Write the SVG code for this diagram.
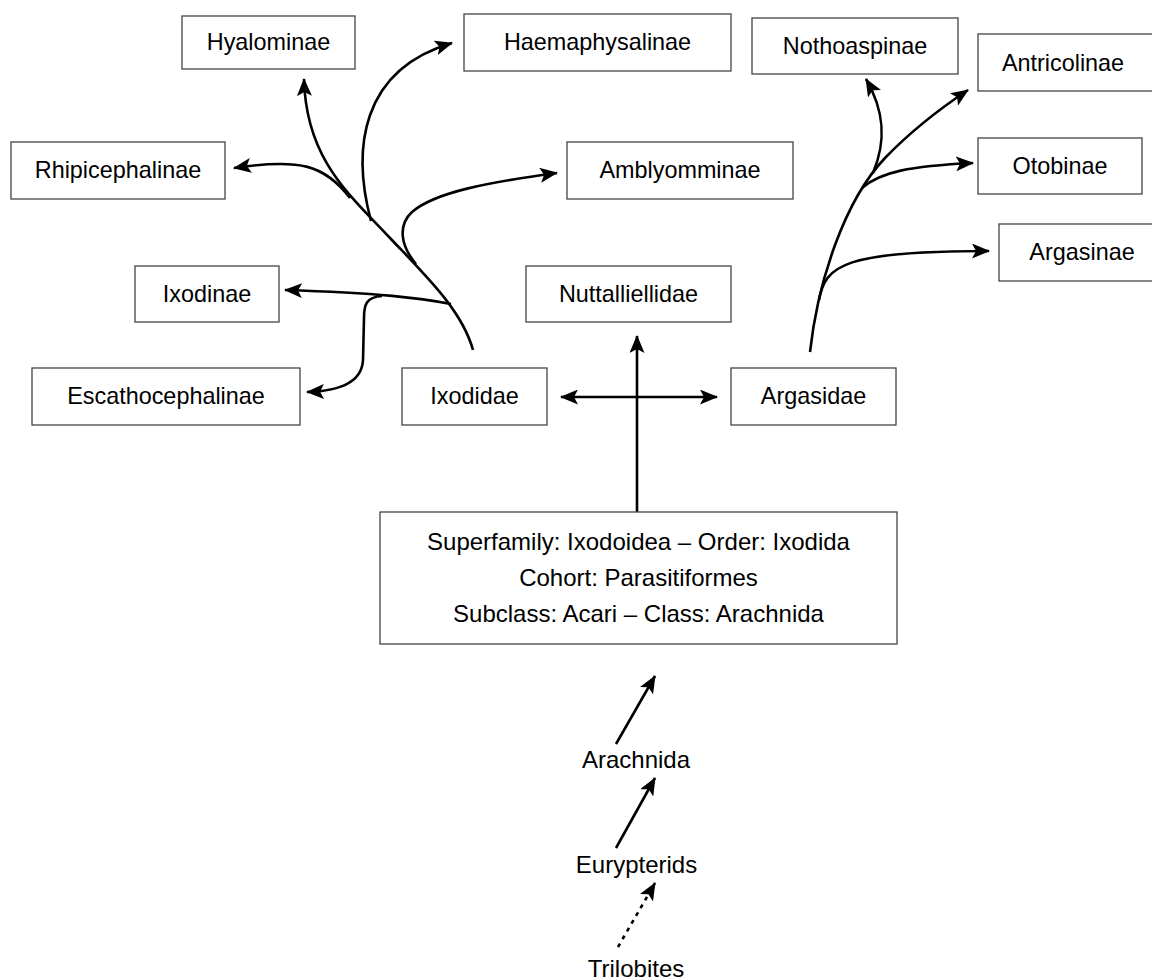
<svg xmlns="http://www.w3.org/2000/svg" width="1152" height="980" viewBox="0 0 1152 980">
<defs>
<marker id="ah" viewBox="0 0 18 15" refX="17" refY="7.5" markerWidth="18" markerHeight="15" markerUnits="userSpaceOnUse" orient="auto-start-reverse">
<path d="M0,0 L18,7.5 L0,15 L4,7.5 z" fill="#000"/>
</marker>
</defs>
<style>
.box{fill:#fff;stroke:#444;stroke-width:1.3}
.t{font-family:"Liberation Sans",Arial,sans-serif;font-size:23.4px;fill:#000;text-anchor:middle}
.b{font-size:24px}
.c{fill:none;stroke:#000;stroke-width:2.6}
.a{marker-end:url(#ah)}
.d{stroke-dasharray:4 5}
</style>
<rect width="1152" height="980" fill="#fff"/>
<g id="connectors">
<path class="c a" d="M473,350 C462,310 425,275 390,238 C350,195 306,160 304,79"/>
<path class="c a" d="M350,198 C325,165 300,158 234,168"/>
<path class="c a" d="M371,221 C352,150 360,70 452,43"/>
<path class="c a" d="M416,264 C400,245 398,225 412,212 C435,192 490,182 557,173"/>
<path class="c a" d="M451,304 C420,298 380,293 285,290"/>
<path class="c a" d="M382,296 C366,297 364,305 364,318 L363,360 C362,380 345,391 307,392"/>
<path class="c a" d="M810,352 C818,280 845,200 885,158 C910,132 935,112 968,90"/>
<path class="c a" d="M873,173 C887,140 884,110 866,79"/>
<path class="c a" d="M862,188 C880,172 910,166 973,163"/>
<path class="c a" d="M819,300 C825,265 845,251 989,251"/>
<path class="c a" d="M637,512 L637,336"/>
<path class="c a" d="M561,397 L717,397" style="marker-start:url(#ah)"/>
<path class="c a" d="M616,744 L655,676"/>
<path class="c a" d="M616,848 L655,778"/>
<path class="c a d" d="M618,947 L655,883"/>
</g>
<g id="hyalominae"><rect class="box" x="182" y="16" width="173" height="53"/><text class="t" x="268.5" y="50">Hyalominae</text></g>
<g id="haemaphysalinae"><rect class="box" x="464" y="14" width="267" height="57"/><text class="t" x="597.5" y="50">Haemaphysalinae</text></g>
<g id="nothoaspinae"><rect class="box" x="752" y="18" width="206" height="56"/><text class="t" x="855" y="54">Nothoaspinae</text></g>
<g id="antricolinae"><rect class="box" x="978" y="34" width="190" height="57"/><text class="t" x="1063" y="71">Antricolinae</text></g>
<g id="rhipicephalinae"><rect class="box" x="11" y="142" width="214" height="57"/><text class="t" x="118" y="178">Rhipicephalinae</text></g>
<g id="amblyomminae"><rect class="box" x="567" y="142" width="226" height="57"/><text class="t" x="680" y="178">Amblyomminae</text></g>
<g id="otobinae"><rect class="box" x="978" y="138" width="164" height="56"/><text class="t" x="1060" y="174">Otobinae</text></g>
<g id="argasinae"><rect class="box" x="999" y="224" width="170" height="57"/><text class="t" x="1082" y="260">Argasinae</text></g>
<g id="ixodinae"><rect class="box" x="135" y="266" width="144" height="56"/><text class="t" x="207" y="302">Ixodinae</text></g>
<g id="nuttalliellidae"><rect class="box" x="526" y="266" width="205" height="56"/><text class="t" x="628.5" y="302">Nuttalliellidae</text></g>
<g id="escathocephalinae"><rect class="box" x="32" y="368" width="268" height="57"/><text class="t" x="166" y="404">Escathocephalinae</text></g>
<g id="ixodidae"><rect class="box" x="402" y="368" width="145" height="57"/><text class="t" x="474.5" y="404">Ixodidae</text></g>
<g id="argasidae"><rect class="box" x="731" y="368" width="165" height="57"/><text class="t" x="813.5" y="404">Argasidae</text></g>
<g id="taxonomy"><rect class="box" x="380" y="512" width="517" height="132"/>
<text class="t b" x="638.5" y="550">Superfamily: Ixodoidea – Order: Ixodida</text>
<text class="t b" x="638.5" y="586">Cohort: Parasitiformes</text>
<text class="t b" x="638.5" y="622">Subclass: Acari – Class: Arachnida</text></g>
<g id="arachnida"><text class="t b" x="636" y="768">Arachnida</text></g>
<g id="eurypterids"><text class="t b" x="636.5" y="873">Eurypterids</text></g>
<g id="trilobites"><text class="t b" x="636" y="977">Trilobites</text></g>
</svg>
